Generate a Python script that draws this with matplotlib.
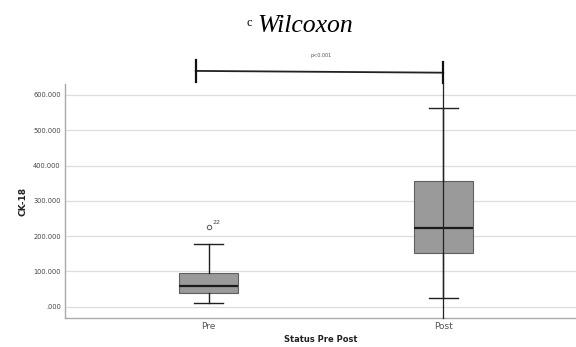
import matplotlib.pyplot as plt

# CK-18 summary per status group
categorias = ['Pre', 'Post']
minimos = [9.6, 25.0]
q1 = [40.0, 153.0]
medianas = [58.6, 222.0]
q3 = [95.0, 356.0]
maximos = [177.6, 562.0]
atipicos = [[226.0], []]
etiquetas_atipicos = [['22'], []]
yticks = [0, 100, 200, 300, 400, 500, 600]
ytick_labels = ['.000', '100.000', '200.000', '300.000', '400.000', '500.000', '600.000']
p_texto = 'p<0.001'

stats = []
for i, cat in enumerate(categorias):
    stats.append({'label': cat, 'whislo': minimos[i], 'q1': q1[i], 'med': medianas[i],
                  'q3': q3[i], 'whishi': maximos[i], 'fliers': atipicos[i]})

fig = plt.figure(figsize=(5.76, 3.47), dpi=100)
ax = fig.add_axes([0.1128, 0.0836, 0.8872, 0.6744])

ax.bxp(stats, positions=range(len(categorias)), widths=0.25, patch_artist=True,
       boxprops=dict(facecolor='#9a9a9a', edgecolor='#606060', linewidth=0.8),
       medianprops=dict(color='#1a1a1a', linewidth=1.6),
       whiskerprops=dict(color='#202020', linewidth=1.0),
       capprops=dict(color='#202020', linewidth=1.0),
       capwidths=0.125,
       flierprops=dict(marker='o', markersize=3.2, markerfacecolor='none',
                       markeredgecolor='#555555', markeredgewidth=0.7),
       zorder=3)

# etiquetas de los casos atípicos
for i, vals in enumerate(atipicos):
    for v, lab in zip(vals, etiquetas_atipicos[i]):
        ax.annotate(lab, (i, v), xytext=(2.5, 2), textcoords='offset points',
                    fontsize=4.5, color='#444444')

ax.set_xlim(-0.6125, 1.566)
ax.set_ylim(-32, 631)
ax.set_yticks(yticks)
ax.set_yticklabels(ytick_labels, fontsize=4.8, color='#444444')
ax.set_xticks(range(len(categorias)))
ax.set_xticklabels(categorias, fontsize=6.5, color='#555555')
ax.tick_params(axis='both', length=0, pad=3)
ax.yaxis.grid(True, color='#dddddd', linewidth=0.9, zorder=0)
ax.set_axisbelow(True)
for s in ['top', 'right']:
    ax.spines[s].set_visible(False)
for s in ['left', 'bottom']:
    ax.spines[s].set_color('#aaaaaa')
    ax.spines[s].set_linewidth(1.0)

ax.set_ylabel('CK-18', fontsize=6.5, fontweight='bold', labelpad=4, color='#222222')
ax.set_xlabel('Status Pre Post', fontsize=6, fontweight='bold', labelpad=3, color='#222222')

# barra de comparación entre grupos
ax.plot([-0.055, 1.0], [668, 663], color='#222222', linewidth=1.3, clip_on=False)
ax.plot([-0.055, -0.055], [637, 699], color='#111111', linewidth=1.6, clip_on=False)
ax.plot([1.0, 1.0], [633, 692], color='#111111', linewidth=1.6, clip_on=False)
ax.plot([1.0, 1.0], [-32, 633], color='#222222', linewidth=0.9, clip_on=False, zorder=4)
ax.text(0.48, 712, p_texto, fontsize=3.5, color='#555555', ha='center', va='center',
        clip_on=False)

# título
fig.text(0.428, 0.934, 'c', fontsize=9, family='Liberation Serif', ha='left', va='center')
fig.text(0.447, 0.925, 'Wilcoxon', fontsize=18.5, family='Liberation Serif',
         style='italic', ha='left', va='center')

fig.savefig('out.png', dpi=100)
